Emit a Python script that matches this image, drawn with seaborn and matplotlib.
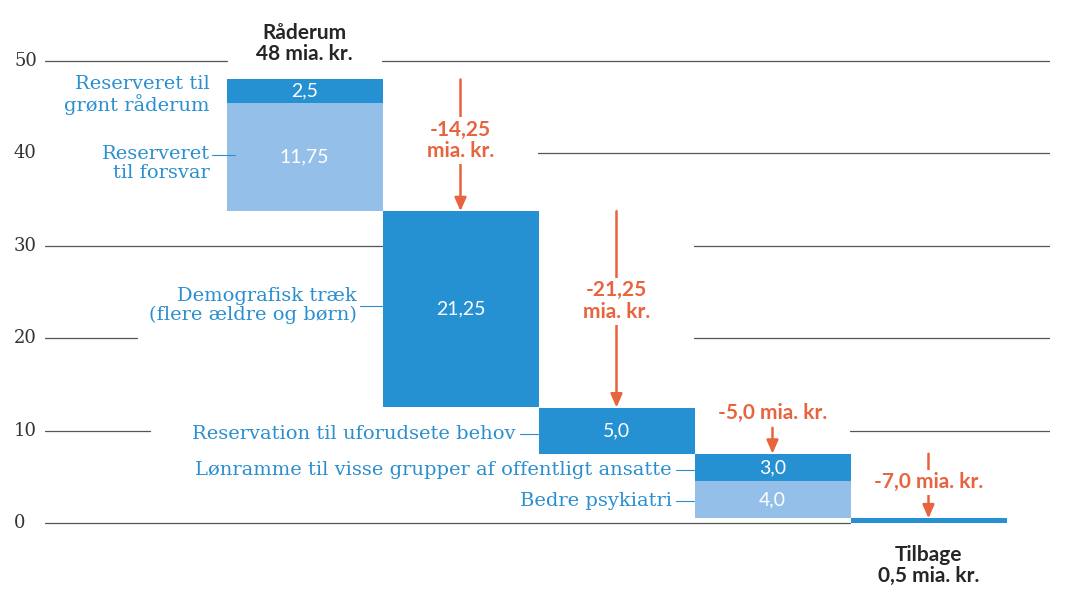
import matplotlib
matplotlib.use("Agg")
import matplotlib.pyplot as plt
import seaborn as sns
import pandas as pd

cols = ["c0", "c1", "c2", "c3", "c4"]
dark_bottom = [45.5, 12.5, 7.5, 4.5, 0.0]
dark_height = [2.5, 21.25, 5.0, 3.0, 0.5]
light_bottom = [33.75, 0, 0, 0.5, 0]
light_height = [11.75, 0, 0, 4.0, 0]
dark_labels = ["2,5", "21,25", "5,0", "3,0", ""]
light_labels = ["11,75", "", "", "4,0", ""]
yticks = [0, 10, 20, 30, 40, 50]
changes = ["-14,25\nmia. kr.", "-21,25\nmia. kr.", "-5,0 mia. kr.", "-7,0 mia. kr."]

DARK = "#2591d3"; LIGHT = "#93bfe9"; RED = "#e8643f"; LBLUE = "#2b8fcf"
SANS = "Lato"; SERIF = "DejaVu Serif"

sns.set_style("white")
fig = plt.figure(figsize=(10.7, 6), dpi=100)
ax = fig.add_axes([45/1070, 0, 1005/1070, 1])
def px(p): return (p - 304.5) / 156.0
def py(p): return (523 - p) / 9.24

segs = {0: [(45, 850)], 10: [(45, 150), (850, 1050)], 20: [(45, 137), (694, 1050)],
        30: [(45, 382), (694, 1050)], 40: [(538, 1050)], 50: [(45, 227), (382, 1050)]}
for y, ss in segs.items():
    for a, b in ss:
        ax.plot([px(a), px(b)], [y, y], color="#555555", lw=0.9, zorder=0)
for y in yticks:
    fig.text(14/1070, (600 - 523 + y*9.24)/600, str(y), fontsize=13, family=SERIF,
             color="#333", va="center", ha="left")

df_d = pd.DataFrame({"c": cols, "h": dark_height})
df_l = pd.DataFrame({"c": cols, "h": light_height})
sns.barplot(data=df_d, x="c", y="h", bottom=dark_bottom, color=DARK, width=1.0,
            saturation=1, ax=ax, linewidth=0, zorder=2)
sns.barplot(data=df_l, x="c", y="h", bottom=light_bottom, color=LIGHT, width=1.0,
            saturation=1, ax=ax, linewidth=0, zorder=2)
for i in range(5):
    if dark_labels[i]:
        ax.text(i, dark_bottom[i] + dark_height[i]/2, dark_labels[i], color="white",
                ha="center", va="center", fontsize=14, family=SANS, zorder=3)
    if light_labels[i]:
        ax.text(i, light_bottom[i] + light_height[i]/2, light_labels[i], color="white",
                ha="center", va="center", fontsize=14, family=SANS, zorder=3)

ax.text(0, 51.9, "Råderum\n48 mia. kr.", ha="center", va="center", fontsize=15,
        fontweight="bold", family=SANS, linespacing=1.1, zorder=4,
        bbox=dict(fc="white", ec="none", pad=2))
ax.text(4, -4.6, "Tilbage\n0,5 mia. kr.", ha="center", va="center", fontsize=15,
        fontweight="bold", family=SANS, linespacing=1.1)

arr = [(1, 48.0, 33.75, 41.4), (2, 33.75, 12.5, 24.0), (3, 10.3, 7.5, 11.9), (4, 7.5, 0.5, 4.4)]
for (i, top, bot, ty), lab in zip(arr, changes):
    ax.annotate("", xy=(i, bot), xytext=(i, top),
                arrowprops=dict(arrowstyle="-|>,head_length=0.8,head_width=0.35",
                                color=RED, lw=1.8, shrinkA=0, shrinkB=0), zorder=3)
    ax.text(i, ty, lab, ha="center", va="center", color=RED, fontsize=15,
            fontweight="bold", family=SANS, linespacing=1.1, zorder=4,
            bbox=dict(fc="white", ec="none", pad=2))

labels = [("Reserveret til\ngrønt råderum", 210, 46.3, None),
          ("Reserveret\ntil forsvar", 210, 38.9, (212, 235, 39.8)),
          ("Demografisk træk\n(flere ældre og børn)", 357, 23.5, (360, 382, 23.5)),
          ("Reservation til uforudsete behov", 515, 9.6, (520, 538, 9.6)),
          ("Lønramme til visse grupper af offentligt ansatte", 672, 5.7, (676, 694, 5.7)),
          ("Bedre psykiatri", 672, 2.4, (676, 694, 2.4))]
for t, xr, y, ln in labels:
    ax.text(px(xr), y, t, ha="right", va="center", color=LBLUE, fontsize=14,
            family=SERIF, linespacing=1.05, zorder=4,
            bbox=dict(fc="white", ec="none", pad=1))
    if ln:
        ax.plot([px(ln[0]), px(ln[1])], [ln[2], ln[2]], color=LBLUE, lw=0.8, zorder=4)

ax.set_xlim(px(45), px(1050))
ax.set_ylim(py(600), py(0))
ax.set_xticks([]); ax.set_yticks([])
ax.set_xlabel(""); ax.set_ylabel("")
sns.despine(ax=ax, left=True, bottom=True)
fig.savefig("out.png", dpi=100)
